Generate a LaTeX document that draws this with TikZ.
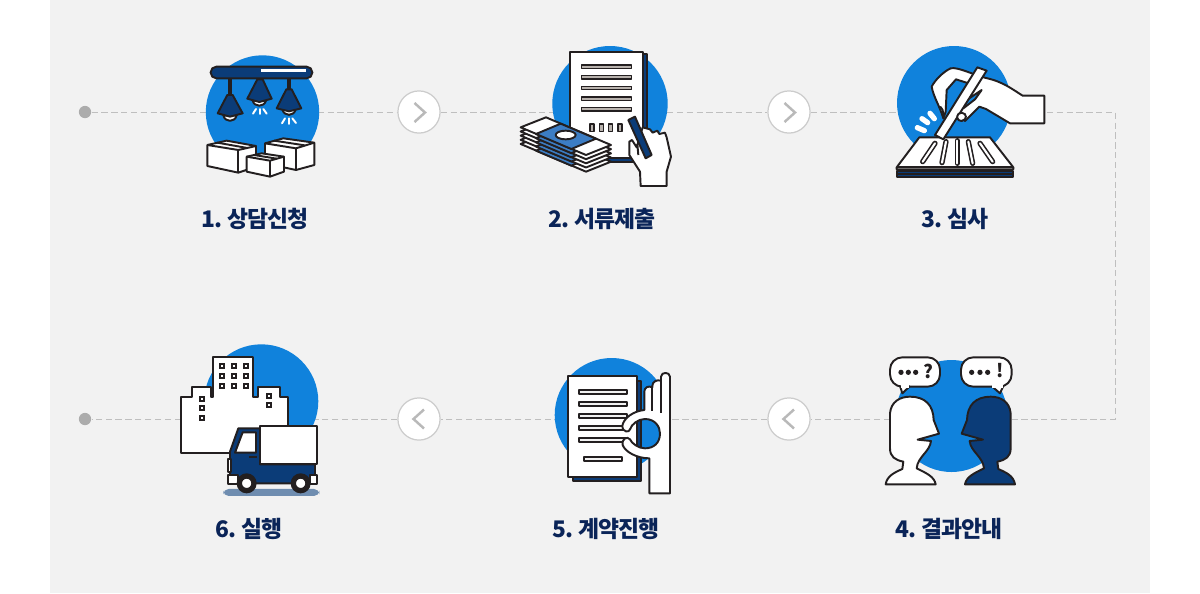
\documentclass[tikz,border=0pt]{standalone}
\usepackage{fontspec}
\setmainfont[LetterSpace=-4,WordSpace=0.7]{Noto Sans CJK KR}
\definecolor{panelgrau}{HTML}{F2F2F2}
\definecolor{kreisblau}{HTML}{1082DC}
\definecolor{navy}{HTML}{0B3C78}
\definecolor{tinte}{HTML}{231F20}
\definecolor{schrift}{HTML}{0A2458}
\definecolor{streifen}{HTML}{B8B2AD}
\definecolor{schatten}{HTML}{6F8DB0}
\definecolor{notenblau}{HTML}{3C7DC4}
\pgfdeclarelayer{background}
\pgfsetlayers{background,main}
\tikzset{
  outline/.style={draw=tinte,line width=1.1pt,line join=round},
  weiss/.style={outline,fill=white},
  dunkel/.style={outline,fill=navy},
  streifenbox/.style={outline,fill=streifen,line width=0.9pt},
  fenster/.style={draw=tinte,fill=white,line width=1pt},
  strahl/.style={draw=white,line width=1.1pt,line cap=round},
  schlitz/.style={draw=tinte,line width=3pt,line cap=round},
  schlitzinnen/.style={draw=white,line width=1.2pt,line cap=round},
  dashline/.style={draw=gray!50,line width=0.45pt,dash pattern=on 3.6pt off 2pt},
  startdot/.style={circle,fill=gray!65,inner sep=0pt,minimum size=7pt},
  button/.style={circle,draw=gray!40,fill=white,line width=0.7pt,inner sep=0pt,minimum size=24pt},
  chevron/.style={draw=gray!55,line width=1.4pt,line join=miter},
  steplabel/.style={text=schrift,font=\bfseries\fontsize{13}{16}\selectfont,inner sep=0pt},
  punkt/.style={circle,fill=tinte,inner sep=0pt,minimum size=3pt}
}
\newcommand{\geldlage}[1]{%
  \begin{scope}[shift={(0,#1)}]
    \draw[weiss] (32,262) -- (108,232) -- (303,315) -- (228,345) -- cycle;
    \draw[outline,fill=notenblau] (78,282) -- (152,251) -- (258,296) -- (184,327) -- cycle;
  \end{scope}}
\begin{document}
\begin{tikzpicture}[x=0.02cm,y=-0.02cm]
\useasboundingbox (0,0) rectangle (1200,593);
% Knoten
\node[startdot] (dotoben) at (85,112) {};
\node[startdot] (dotunten) at (85,419) {};
\node[button] (btn_a) at (419,112) {};
\node[button] (btn_b) at (789,112) {};
\node[button] (btn_c) at (789,419) {};
\node[button] (btn_d) at (419,419) {};
\coordinate (ecke_oben) at (1115,112);
\coordinate (ecke_unten) at (1115,419);
% Flaeche und Linien
\begin{pgfonlayer}{background}
\fill[panelgrau] (50,0) rectangle (1150,593);
\draw[dashline] (dotoben) -- (btn_a);
\draw[dashline] (btn_a) -- (btn_b);
\draw[dashline] (btn_b) -- (ecke_oben) -- (ecke_unten) -- (btn_c);
\draw[dashline] (btn_c) -- (btn_d);
\draw[dashline] (btn_d) -- (dotunten);
\end{pgfonlayer}
% Pfeilspitzen
\draw[chevron] (414.5,103) -- (425,112.5) -- (414.5,122);
\draw[chevron] (784.5,103) -- (795,112.5) -- (784.5,122);
\draw[chevron] (794,409.5) -- (783.5,419) -- (794,428.5);
\draw[chevron] (424,409.5) -- (413.5,419) -- (424,428.5);
% Kreise
\fill[kreisblau] (262.5,112) circle (56.7);
\fill[kreisblau] (610,103.7) circle (57.7);
\fill[kreisblau] (954,103) circle (57);
\fill[kreisblau] (951.5,416) circle (56);
\fill[kreisblau] (611.7,415) circle (57);
\fill[kreisblau] (261.3,401.3) circle (57);
% Schritt 1
\begin{scope}[shift={(170,40)},scale=0.3333]
\draw[dunkel,rounded corners=3.2pt] (122,80) rectangle (427,115);
\fill[white] (272,88) rectangle (407,96);
\draw[tinte,line width=2.2pt] (180,115) -- (180,168);
\draw[tinte,line width=2.2pt] (270,115) -- (270,122);
\draw[tinte,line width=2.2pt] (357,115) -- (357,150);
\draw[weiss] (160,226) .. controls (165,248) and (195,248) .. (200,226) -- cycle;
\draw[dunkel] (172,165) -- (188,165) -- (218,220) -- (180,230) -- (143,220) -- cycle;
\draw[weiss] (248,182) .. controls (253,202) and (283,202) .. (288,182) -- cycle;
\draw[dunkel] (262,118) -- (278,118) -- (305,176) -- (268,186) -- (232,176) -- cycle;
\draw[weiss] (337,208) .. controls (342,230) and (372,230) .. (377,208) -- cycle;
\draw[dunkel] (349,148) -- (365,148) -- (394,205) -- (357,214) -- (320,205) -- cycle;
\draw[strahl] (258,207) -- (249,221);
\draw[strahl] (269,207) -- (269,222);
\draw[strahl] (280,207) -- (290,221);
\draw[strahl] (345,235) -- (336,250);
\draw[strahl] (356,235) -- (356,252);
\draw[strahl] (367,235) -- (378,249);
% Kartons
\draw[weiss] (112,315) -- (170,302) -- (258,318) -- (258,380) -- (205,398) -- (112,378) -- cycle;
\draw[outline] (112,315) -- (205,330) -- (258,318);
\draw[outline] (205,330) -- (205,398);
\draw[outline] (142,308) -- (232,324);
\draw[weiss] (285,310) -- (340,295) -- (433,308) -- (433,375) -- (378,390) -- (285,370) -- cycle;
\draw[outline] (285,310) -- (378,325) -- (433,308);
\draw[outline] (378,325) -- (378,390);
\draw[outline] (312,302) -- (404,316);
\draw[weiss] (230,350) -- (275,340) -- (342,350) -- (342,395) -- (300,410) -- (230,395) -- cycle;
\draw[outline] (230,350) -- (300,362) -- (342,350);
\draw[outline] (300,362) -- (300,410);
\draw[outline] (252,345) -- (320,356);
\end{scope}
% Schritt 2
\begin{scope}[shift={(510,40)},scale=0.3333]
\draw[dunkel] (190,42) rectangle (410,365);
\draw[weiss] (180,35) rectangle (400,355);
\draw[streifenbox] (215,75) rectangle (365,85);
\draw[streifenbox] (215,107) rectangle (365,117);
\draw[streifenbox] (215,139) rectangle (365,149);
\draw[streifenbox] (215,171) rectangle (365,181);
\draw[streifenbox] (215,203) rectangle (365,213);
\draw[streifenbox] (240,252) rectangle (252,274);
\draw[streifenbox] (268,252) rectangle (280,274);
\draw[streifenbox] (296,252) rectangle (308,274);
\draw[streifenbox] (324,252) rectangle (336,274);
% Geldstapel
\geldlage{50}
\geldlage{37.5}
\geldlage{25}
\geldlage{12.5}
\geldlage{0}
\draw[outline,fill=white] (167,285) ellipse (30 and 13);
% Hand
\draw[weiss] (392,438) -- (390,395) -- (358,345) -- (358,305) -- (366,300) -- (380,322) -- (398,262) -- (420,268) -- (428,278) -- (442,272) -- (448,282) -- (465,278) -- (470,292) -- (483,350) -- (470,395) -- (470,438) -- cycle;
\draw[outline] (382,312) -- (385,345);
\draw[dunkel] (355,240) -- (375,230) -- (425,345) -- (407,355) -- cycle;
\end{scope}
% Schritt 3
\begin{scope}[shift={(880,40)},scale=0.3333]
\draw[dunkel] (50,392) rectangle (400,412);
\draw[outline] (50,402) -- (400,402);
\draw[weiss] (118,292) -- (330,292) -- (400,382) -- (400,388) -- (50,388) -- (50,382) -- cycle;
\draw[outline] (50,382) -- (400,382);
\draw[schlitz] (165,310) -- (128,365);
\draw[schlitzinnen] (165,310) -- (128,365);
\draw[schlitz] (198,305) -- (186,368);
\draw[schlitzinnen] (198,305) -- (186,368);
\draw[schlitz] (232,302) -- (232,370);
\draw[schlitzinnen] (232,302) -- (232,370);
\draw[schlitz] (265,305) -- (278,370);
\draw[schlitzinnen] (265,305) -- (278,370);
\draw[schlitz] (300,310) -- (338,365);
\draw[schlitzinnen] (300,310) -- (338,365);
\draw[white,line width=3pt,line cap=round] (150,220) -- (163,236);
\draw[white,line width=3pt,line cap=round] (126,236) -- (143,248);
\draw[white,line width=3pt,line cap=round] (112,263) -- (133,272);
% Hand
\draw[weiss] (493,167) -- (428,167) .. controls (400,150) and (370,125) .. (318,114) .. controls (280,105) and (235,80) .. (212,85) .. controls (190,95) and (165,120) .. (155,140) .. controls (160,170) and (180,200) .. (190,235) -- (197,215) -- (200,150) -- (228,118) -- (272,132) -- (240,215) -- (255,243) -- (298,200) -- (318,207) -- (390,250) -- (493,250) -- cycle;
\draw[outline,fill=kreisblau] (260,180) -- (305,150) -- (285,178) -- (250,205) -- cycle;
\draw[outline] (176,200) .. controls (185,198) and (193,215) .. (190,235);
\draw[weiss] (292,82) -- (320,92) -- (190,298) -- (165,285) -- cycle;
\draw[weiss] (245,218) .. controls (262,220) and (262,240) .. (245,243) .. controls (232,243) and (228,230) .. (235,222) -- cycle;
\end{scope}
% Schritt 4
\begin{scope}[shift={(875,345)},scale=0.3333]
\draw[weiss,rounded corners=7pt] (45,37) rectangle (195,125);
\draw[weiss,rounded corners=7pt] (258,37) rectangle (410,125);
\draw[weiss] (75,123) -- (82,145) -- (105,123);
\draw[white,line width=1.6pt] (77,125) -- (103,125);
\draw[weiss] (350,123) -- (375,145) -- (385,123);
\draw[white,line width=1.6pt] (352,125) -- (383,125);
\node[punkt] (p_a) at (78,82) {};
\node[punkt] (p_b) at (100,82) {};
\node[punkt] (p_c) at (122,82) {};
\node[punkt] (p_d) at (290,82) {};
\node[punkt] (p_e) at (315,82) {};
\node[punkt] (p_f) at (338,82) {};
\node[text=tinte,font=\bfseries\fontsize{10.5}{12}\selectfont,inner sep=0pt] (frage) at (160,78) {?};
\node[text=tinte,font=\bfseries\fontsize{10.5}{12}\selectfont,inner sep=0pt] (ausruf) at (375,78) {!};
\draw[weiss] (32,418) .. controls (36,392) and (60,382) .. (82,372) -- (85,350) .. controls (60,345) and (45,335) .. (45,310) -- (45,205) .. controls (48,170) and (75,155) .. (105,155) .. controls (150,155) and (175,180) .. (176,225) -- (192,266) -- (128,284) -- (168,288) .. controls (165,320) and (128,335) .. (125,370) .. controls (155,385) and (178,395) .. (182,418) -- cycle;
\begin{scope}[shift={(452,0)},xscale=-1]
\draw[dunkel] (32,418) .. controls (36,392) and (60,382) .. (82,372) -- (85,350) .. controls (60,345) and (45,335) .. (45,310) -- (45,205) .. controls (48,170) and (75,155) .. (105,155) .. controls (150,155) and (175,180) .. (176,225) -- (192,266) -- (128,284) -- (168,288) .. controls (165,320) and (128,335) .. (125,370) .. controls (155,385) and (178,395) .. (182,418) -- cycle;
\end{scope}
\end{scope}
% Schritt 5
\begin{scope}[shift={(550,350)},scale=0.3333]
\draw[dunkel] (68,92) rectangle (272,393);
\draw[weiss] (55,78) rectangle (260,382);
\draw[outline,fill=panelgrau] (88,119) rectangle (232,132);
\draw[outline,fill=panelgrau] (88,155) rectangle (232,168);
\draw[outline,fill=panelgrau] (88,191) rectangle (232,204);
\draw[outline,fill=panelgrau] (88,227) rectangle (232,240);
\draw[outline,fill=panelgrau] (88,263) rectangle (232,276);
\draw[outline,fill=panelgrau] (102,321) rectangle (217,334);
% Hand
\draw[weiss] (298,430) -- (360,430) -- (360,80) .. controls (360,65) and (333,65) .. (333,80) -- (333,92) .. controls (320,88) and (307,95) .. (307,108) -- (307,112) .. controls (295,106) and (283,112) .. (283,125) -- (283,180) .. controls (250,183) and (220,205) .. (217,228) .. controls (218,248) and (238,248) .. (240,238) .. controls (245,222) and (265,207) .. (285,207) .. controls (315,207) and (330,230) .. (330,250) .. controls (330,280) and (310,295) .. (285,295) .. controls (265,295) and (245,280) .. (240,268) .. controls (232,258) and (215,265) .. (218,285) .. controls (225,305) and (260,325) .. (298,325) -- cycle;
\draw[outline] (333,92) -- (333,190);
\draw[outline] (307,108) -- (307,184);
\end{scope}
% Schritt 6
\begin{scope}[shift={(170,340)},scale=0.3333]
\draw[weiss] (32,338) -- (32,172) -- (65,172) -- (65,142) -- (122,142) -- (122,172) -- (130,172) -- (130,50) -- (250,50) -- (250,172) -- (265,172) -- (265,142) -- (330,142) -- (330,172) -- (355,172) -- (355,338) -- cycle;
\draw[fenster] (149,72) rectangle (161,84);
\draw[fenster] (185,72) rectangle (197,84);
\draw[fenster] (222,72) rectangle (234,84);
\draw[fenster] (149,102) rectangle (161,114);
\draw[fenster] (185,102) rectangle (197,114);
\draw[fenster] (222,102) rectangle (234,114);
\draw[fenster] (149,131) rectangle (161,143);
\draw[fenster] (185,131) rectangle (197,143);
\draw[fenster] (222,131) rectangle (234,143);
\draw[fenster] (89,170) rectangle (101,182);
\draw[fenster] (89,199) rectangle (101,211);
\draw[fenster] (89,229) rectangle (101,241);
\draw[fenster] (292,161) rectangle (304,173);
\draw[fenster] (292,188) rectangle (304,200);
% Lastwagen
\fill[schatten,rounded corners=3pt] (160,447) rectangle (448,468);
\draw[dunkel] (180,335) -- (205,265) -- (270,265) -- (270,373) -- (435,373) -- (435,430) -- (180,430) -- cycle;
\draw[weiss] (270,258) rectangle (440,373);
\draw[weiss] (195,338) -- (218,277) -- (258,277) -- (258,338) -- cycle;
\fill[tinte] (237,347) rectangle (262,355);
\draw[weiss] (175,358) rectangle (183,395);
\draw[weiss] (175,405) rectangle (205,432);
\draw[weiss] (420,405) rectangle (440,432);
\draw[tinte,line width=3pt,fill=white] (230,430) circle (22);
\draw[tinte,line width=3pt,fill=white] (392,430) circle (22);
\end{scope}
% Bezeichnung
\node[steplabel] (label_a) at (255,218.5) {1. 상담신청};
\node[steplabel] (label_b) at (602,218.5) {2. 서류제출};
\node[steplabel] (label_c) at (955,218.5) {3. 심사};
\node[steplabel] (label_d) at (949,528.5) {4. 결과안내};
\node[steplabel] (label_e) at (606,528.5) {5. 계약진행};
\node[steplabel] (label_f) at (249,528.5) {6. 실행};
\end{tikzpicture}
\end{document}
